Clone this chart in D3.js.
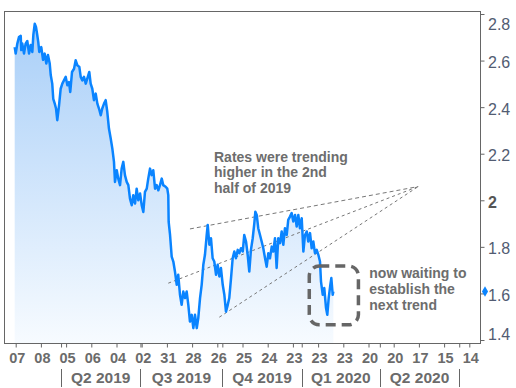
<!DOCTYPE html>
<html>
<head>
<meta charset="utf-8">
<script src="https://cdn.jsdelivr.net/npm/d3@7"></script>
<style>
  body { margin: 0; background: #fff; }
  svg { display: block; }
</style>
</head>
<body>
<div id="chart"></div>
<script>
// trading-day index (0 = first labelled tick) and rate values
let days = [
  -0.8, 0, 1.3, 2.6, 4.0, 4.4, 5.2, 6.6, 7.9, 9.2,
  10.6, 11.9, 13.2, 14.0, 15.1, 16.1, 17.1, 17.9, 18.7, 20.3,
  21.7, 23.0, 24.3, 25.6, 27.0, 27.8, 29.0, 29.8, 31.0, 32.0,
  33.0, 34.4, 35.7, 37.0, 38.3, 39.7, 41.0, 42.3, 43.3, 44.7,
  46.3, 47.6, 48.9, 50.5, 51.6, 52.9, 54.2, 55.6, 56.8, 58.4,
  59.5, 60.8, 62.1, 63.5, 64.8, 66.1, 67.5, 68.7, 70.1, 71.4,
  72.7, 74.0, 75.4, 76.7, 78.0, 78.8, 80.2, 81.4, 82.8, 84.1,
  85.4, 86.7, 88.1, 89.4, 90.7, 92.1, 93.3, 94.7, 96.0, 97.3,
  98.7, 100.0, 101.3, 102.6, 104.0, 105.2, 106.6, 107.9, 109.2, 110.6,
  111.9, 113.2, 114.5, 115.9, 117.1, 119.0, 120.3, 121.1,
  121.4, 122.5, 123.8, 125.1, 126.4, 127.8, 129.0, 130.4, 131.7, 133.0,
  134.4, 135.7, 137.0, 138.3, 139.7, 141.0, 142.3, 143.7, 144.9, 146.3,
  147.6, 148.9, 150.2, 151.6, 152.4, 153.7, 155.0, 156.3, 157.6, 159.0,
  160.3, 161.6, 162.9, 164.3, 165.6, 166.9, 168.3, 169.5, 170.9, 172.2,
  173.5, 174.8, 176.2, 177.5, 178.8, 180.2, 181.4, 182.8, 184.1, 185.4,
  186.7, 188.1, 189.4, 190.2, 191.3, 192.5, 193.9, 195.2, 196.5, 197.9,
  199.2, 200.5, 201.8, 203.2, 204.4, 205.8, 207.1, 208.4, 209.8, 211.1,
  212.4, 213.7, 215.1, 216.3, 217.7, 219.0, 220.3, 221.7, 223.0, 224.3,
  225.6, 227.0, 228.3, 229.6, 231.0, 232.2, 233.6, 234.9, 236.2, 237.5,
  238.9, 240.2, 241.5, 242.3, 243.7, 244.9, 246.3, 247.3, 248.4, 249.7,
  250.5, 251.6, 252.1
];
let rates = [
  2.658, 2.630, 2.673, 2.701, 2.706, 2.645, 2.673, 2.630, 2.673, 2.684,
  2.630, 2.667, 2.637, 2.710, 2.758, 2.744, 2.710, 2.680, 2.637, 2.658,
  2.603, 2.630, 2.587, 2.624, 2.587, 2.538, 2.501, 2.436, 2.415, 2.394,
  2.344, 2.408, 2.479, 2.501, 2.515, 2.530, 2.494, 2.508, 2.465, 2.551,
  2.565, 2.601, 2.580, 2.573, 2.530, 2.515, 2.530, 2.501, 2.522, 2.551,
  2.501, 2.479, 2.430, 2.458, 2.415, 2.394, 2.365, 2.394, 2.415, 2.430,
  2.379, 2.308, 2.265, 2.222, 2.165, 2.079, 2.129, 2.093, 2.065, 2.136,
  2.165, 2.108, 2.079, 2.065, 2.007, 1.979, 2.022, 1.986, 2.050, 2.000,
  2.029, 1.979, 1.950, 2.036, 2.050, 2.093, 2.136, 2.108, 2.129, 2.050,
  2.065, 2.043, 2.065, 2.093, 2.065, 2.058, 2.050, 2.022,
  1.907, 1.851, 1.758, 1.737, 1.694, 1.637, 1.680, 1.594, 1.551, 1.608,
  1.580, 1.608, 1.551, 1.479, 1.508, 1.451, 1.508, 1.451, 1.494, 1.580,
  1.637, 1.723, 1.766, 1.851, 1.894, 1.809, 1.837, 1.751, 1.737, 1.680,
  1.723, 1.673, 1.709, 1.637, 1.594, 1.522, 1.551, 1.580, 1.666, 1.751,
  1.780, 1.751, 1.787, 1.773, 1.794, 1.780, 1.851, 1.823, 1.766, 1.694,
  1.787, 1.837, 1.902, 1.951, 1.937, 1.880, 1.851, 1.823, 1.794, 1.751,
  1.715, 1.773, 1.751, 1.801, 1.780, 1.837, 1.709, 1.837, 1.816, 1.866,
  1.809, 1.880, 1.851, 1.916, 1.930, 1.945, 1.909, 1.937, 1.887, 1.937,
  1.880, 1.923, 1.780, 1.851, 1.866, 1.823, 1.859, 1.794, 1.823, 1.773,
  1.787, 1.766, 1.737, 1.651, 1.594, 1.623, 1.537, 1.508, 1.580, 1.637,
  1.666, 1.594, 1.608
];

let tickDays = d3.range(0, 361, 20);
let tickLabels = ["07", "08", "05", "06", "04", "02", "31", "28", "26", "25",
  "24", "23", "23", "23", "20", "20", "17", "15", "14"];
let quarterDays = [36, 99, 164, 227, 289, 352];
let quarterLabels = ["Q2 2019", "Q3 2019", "Q4 2019", "Q1 2020", "Q2 2020"];
let yTicks = [1.4, 1.6, 1.8, 2, 2.2, 2.4, 2.6, 2.8];

// trend lines: [start, end] as [day, rate]
let trendLines = [
  [[138.3, 1.877], [319.5, 2.059]],
  [[121.1, 1.644], [319.5, 2.059]],
  [[161.6, 1.498], [319.5, 2.059]]
];
let waitBox = { days: [233, 272], rates: [1.465, 1.718] };

let w = 516;
let h = 388;
let font = "'Liberation Sans', Arial, sans-serif";
let plot = { left: 4.5, right: 480.5, top: 11.5, bottom: 343.5 };

let svg = d3.select("#chart")
  .append("svg")
  .attr("width", w)
  .attr("height", h)
  .style("background-color", "white");

let xScale = d3.scaleLinear().domain([0, 360]).range([15.7, 469.3]);
let yScale = d3.scaleLinear().domain([1.4, 2.8]).range([340, 14]);

let data = d3.zip(days, rates);

let defs = svg.append("defs");
let grad = defs.append("linearGradient")
  .attr("id", "fillGrad")
  .attr("gradientUnits", "userSpaceOnUse")
  .attr("x1", 0).attr("x2", 0)
  .attr("y1", yScale(2.76)).attr("y2", plot.bottom);
grad.append("stop").attr("offset", 0).attr("stop-color", "#a9cff8");
grad.append("stop").attr("offset", 1).attr("stop-color", "#f7fbff");

let area = d3.area()
  .x(d => xScale(d[0]))
  .y0(plot.bottom)
  .y1(d => yScale(d[1]));

let line = d3.line()
  .x(d => xScale(d[0]))
  .y(d => yScale(d[1]));

svg.append("path")
  .datum(data)
  .attr("d", area)
  .attr("fill", "url(#fillGrad)");

// dashed trend lines
svg.selectAll(".trend")
  .data(trendLines)
  .enter()
  .append("line")
  .attr("class", "trend")
  .attr("x1", d => xScale(d[0][0]))
  .attr("y1", d => yScale(d[0][1]))
  .attr("x2", d => xScale(d[1][0]))
  .attr("y2", d => yScale(d[1][1]))
  .attr("stroke", "#777")
  .attr("stroke-width", 1)
  .attr("stroke-dasharray", (d, i) => i == 0 ? "4,3" : "3,3");

svg.append("path")
  .datum(data)
  .attr("d", line)
  .attr("fill", "none")
  .attr("stroke", "#0a84ff")
  .attr("stroke-width", 2.5)
  .attr("stroke-linejoin", "round");

// frame
svg.append("rect")
  .attr("x", plot.left)
  .attr("y", plot.top)
  .attr("width", plot.right - plot.left)
  .attr("height", plot.bottom - plot.top)
  .attr("fill", "none")
  .attr("stroke", "#666")
  .attr("stroke-width", 1);

// x axis: date ticks
let xAxisGroup = svg.append("g")
  .attr("transform", "translate(0," + plot.bottom + ")")
  .call(d3.axisBottom(xScale)
    .tickValues(tickDays)
    .tickSize(4)
    .tickFormat((d, i) => tickLabels[i]));
// quarter boundary ticks
let qTickGroup = svg.append("g")
  .attr("transform", "translate(0," + plot.bottom + ")")
  .call(d3.axisBottom(xScale)
    .tickValues(quarterDays)
    .tickSize(4)
    .tickFormat(""));

[xAxisGroup, qTickGroup].forEach(g => {
  g.select(".domain").remove();
  g.selectAll(".tick line").attr("stroke", "#666");
});
xAxisGroup.selectAll(".tick text")
  .attr("y", 19.5)
  .attr("dy", 0)
  .attr("x", 1)
  .attr("fill", "#6b6b6b")
  .style("font-family", font)
  .style("font-size", "14.5px")
  .style("font-weight", "bold");

// quarter row
let quarterGroup = svg.append("g");
quarterGroup.selectAll(".qsep")
  .data(quarterDays)
  .enter()
  .append("line")
  .attr("class", "qsep")
  .attr("x1", d => Math.round(xScale(d)) + 0.5)
  .attr("x2", d => Math.round(xScale(d)) + 0.5)
  .attr("y1", 369)
  .attr("y2", 387)
  .attr("stroke", "#666");
quarterGroup.selectAll(".qlabel")
  .data(quarterLabels)
  .enter()
  .append("text")
  .attr("class", "qlabel")
  .attr("x", (d, i) => (xScale(quarterDays[i]) + xScale(quarterDays[i + 1])) / 2)
  .attr("y", 383.3)
  .attr("text-anchor", "middle")
  .attr("fill", "#6b6b6b")
  .style("font-family", font)
  .style("font-size", "15.5px")
  .style("font-weight", "bold")
  .text(d => d);

// y axis on the right
let yAxisGroup = svg.append("g")
  .attr("transform", "translate(" + plot.right + ",0)")
  .call(d3.axisRight(yScale)
    .tickValues(yTicks)
    .tickSize(4)
    .tickPadding(3.5)
    .tickFormat(d => String(d)));
yAxisGroup.select(".domain").remove();
yAxisGroup.selectAll(".tick line").attr("stroke", "#666");
yAxisGroup.selectAll(".tick text")
  .attr("dy", d => d == 2.8 ? "0.94em" : (d == 1.4 ? "-0.06em" : "0.44em"))
  .attr("fill", d => d == 2 ? "#555" : "#525c72")
  .style("font-family", font)
  .style("font-size", "16px")
  .style("font-weight", d => d == 2 ? "bold" : "normal");

// last value marker
svg.append("path")
  .attr("d", d3.symbol(d3.symbolDiamond, 32))
  .attr("transform", "translate(" + (plot.right + 4.5) + "," + yScale(rates[rates.length - 1]) + ")")
  .attr("fill", "#0a84ff");

// dashed box round the latest move
svg.append("rect")
  .attr("x", xScale(waitBox.days[0]))
  .attr("y", yScale(waitBox.rates[1]))
  .attr("width", xScale(waitBox.days[1]) - xScale(waitBox.days[0]))
  .attr("height", yScale(waitBox.rates[0]) - yScale(waitBox.rates[1]))
  .attr("rx", 10)
  .attr("fill", "none")
  .attr("stroke", "#666")
  .attr("stroke-width", 3.5)
  .attr("stroke-dasharray", "10,6");

// annotations
function note(x, y, lines) {
  let t = svg.append("text")
    .attr("x", x)
    .attr("y", y)
    .attr("fill", "#6d6d6d")
    .style("font-family", font)
    .style("font-size", "14px")
    .style("font-weight", "bold");
  lines.forEach((s, i) => {
    t.append("tspan")
      .attr("x", x)
      .attr("dy", i == 0 ? 0 : 15.7)
      .text(s);
  });
}
note(214, 161.7, ["Rates were trending", "higher in the 2nd", "half of 2019"]);
note(369.3, 278.3, ["now waiting to", "establish the", "next trend"]);
</script>
</body>
</html>
